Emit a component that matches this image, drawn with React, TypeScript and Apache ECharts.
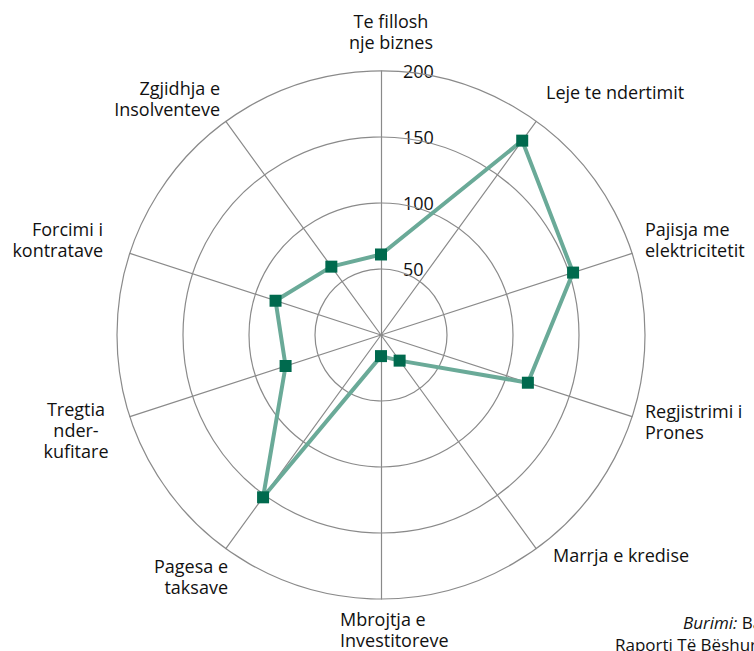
import React, { useEffect, useRef } from "react";
import * as echarts from "echarts";

// Indicators in the order ECharts draws them (counter-clockwise from the top)
const categories = [
  "Te fillosh\nnje biznes",
  "Zgjidhja e\nInsolventeve",
  "Forcimi i\nkontratave",
  "Tregtia\nnder-\nkufitare",
  "Pagesa e\ntaksave",
  "Mbrojtja e\nInvestitoreve",
  "Marrja e kredise",
  "Regjistrimi i\nPrones",
  "Pajisja me\nelektricitetit",
  "Leje te ndertimit",
];
const values = [61, 64, 84, 76, 152, 16, 24, 117, 153, 182];
const tickValues = [50, 100, 150, 200];
const maxValue = 200;

// label placement (layout only)
const labelPos: { x: number; y: number; align: "left" | "right" | "center" }[] = [
  { x: 391, y: 31, align: "center" },
  { x: 220, y: 98, align: "right" },
  { x: 103, y: 239, align: "right" },
  { x: 76, y: 430, align: "center" },
  { x: 228, y: 576, align: "right" },
  { x: 340, y: 629, align: "left" },
  { x: 553, y: 555, align: "left" },
  { x: 645, y: 421, align: "left" },
  { x: 645, y: 239, align: "left" },
  { x: 546, y: 92, align: "left" },
];

const CX = 381;
const CY = 335;
const R = 264;
const FONT = "'Open Sans', 'Noto Sans', sans-serif";

export default function App() {
  const ref = useRef<HTMLDivElement>(null);
  useEffect(() => {
    if (!ref.current) return;
    const chart = echarts.init(ref.current, undefined, { renderer: "svg" });
    const graphics: any[] = [];
    categories.forEach((c, i) => {
      const p = labelPos[i];
      graphics.push({
        type: "text",
        x: p.x,
        y: p.y,
        style: {
          text: c,
          fontFamily: FONT,
          fontSize: 18,
          lineHeight: 21,
          fill: "#111",
          align: p.align,
          verticalAlign: "middle",
        },
      });
    });
    tickValues.forEach((v) => {
      graphics.push({
        type: "text",
        x: 403,
        y: CY - (R * v) / maxValue,
        style: {
          text: String(v),
          fontFamily: FONT,
          fontSize: 18,
          fill: "#111",
          align: "left",
          verticalAlign: "middle",
        },
      });
    });
    graphics.push({
      type: "text",
      x: 683,
      y: 622,
      style: {
        text: "{i|Burimi:} Banka Botërore",
        rich: { i: { fontStyle: "italic", fontFamily: FONT, fontSize: 17, fill: "#111" } },
        fontFamily: FONT,
        fontSize: 17,
        fill: "#111",
        verticalAlign: "middle",
      },
    });
    graphics.push({
      type: "text",
      x: 615,
      y: 644,
      style: {
        text: "Raporti Të Bëshurit Biznes",
        fontFamily: FONT,
        fontSize: 17,
        fill: "#111",
        verticalAlign: "middle",
      },
    });

    chart.setOption({
      animation: false,
      radar: {
        center: [CX, CY],
        radius: R,
        shape: "circle",
        splitNumber: 4,
        startAngle: 90,
        indicator: categories.map((c) => ({ name: c, max: maxValue, min: 0 })),
        axisName: { show: false },
        splitArea: { show: false },
        splitLine: { lineStyle: { color: "#8a8a8a", width: 1.2 } },
        axisLine: { lineStyle: { color: "#8a8a8a", width: 1.2 } },
        axisTick: { show: false },
        axisLabel: { show: false },
      },
      series: [
        {
          type: "radar",
          symbol: "rect",
          symbolSize: 12,
          lineStyle: { color: "#6aaa98", width: 4 },
          itemStyle: { color: "#006a4e" },
          data: [{ value: values }],
        },
      ],
      graphic: graphics,
    });
    return () => chart.dispose();
  }, []);
  return (
    <div
      ref={ref}
      style={{ position: "fixed", left: 0, top: 0, width: 754, height: 651, background: "#fff" }}
    />
  );
}
